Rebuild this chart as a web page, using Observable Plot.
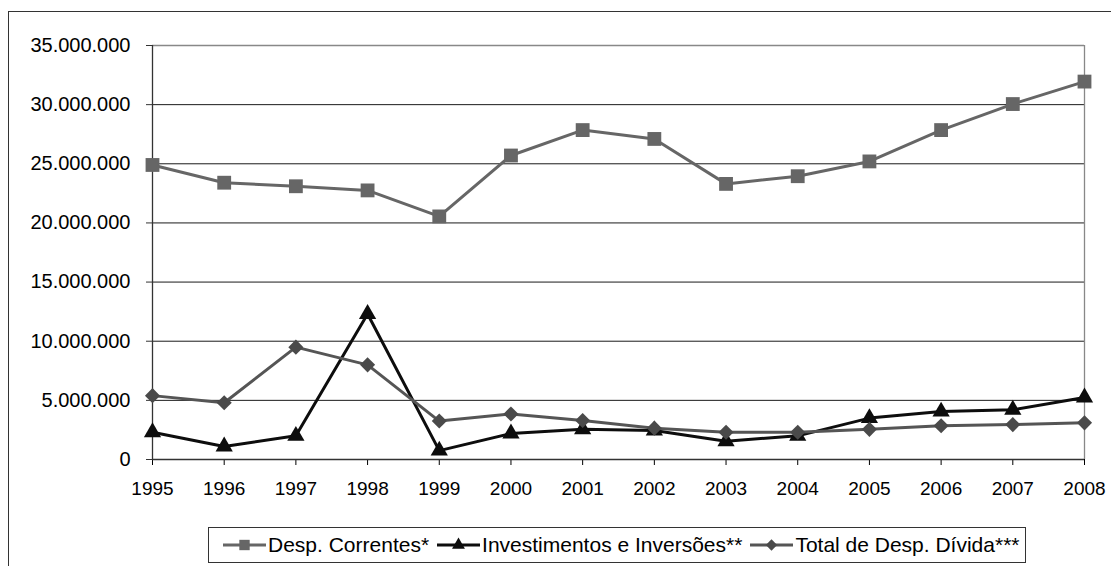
<!DOCTYPE html>
<html>
<head>
<meta charset="utf-8">
<script src="https://cdn.jsdelivr.net/npm/d3@7"></script>
<script src="https://cdn.jsdelivr.net/npm/@observablehq/plot@0.6"></script>
<style>
  html, body { margin: 0; padding: 0; background: #fff; }
  #wrap { position: relative; width: 1111px; height: 566px; overflow: hidden; font-family: "Liberation Sans", Arial, sans-serif; }
  #frame { position: absolute; left: 8px; top: 11px; width: 1300px; height: 700px; border-left: 1px solid #333; border-top: 1px solid #333; }
  #chart { position: absolute; left: 0; top: 0; }
  #legend { position: absolute; left: 208px; top: 527px; width: 818px; height: 36px; border: 1px solid #333; box-sizing: border-box; background: #fff;
            display: flex; align-items: center; padding-left: 14px; font-size: 21px; color: #000; white-space: nowrap; }
  #legend .item { display: flex; align-items: center; margin-right: 8px; }
  #legend svg { margin-right: 2px; }
</style>
</head>
<body>
<div id="wrap">
  <div id="frame"></div>
  <div id="chart"></div>
  <div id="legend"></div>
</div>
<script>
const years = [1995, 1996, 1997, 1998, 1999, 2000, 2001, 2002, 2003, 2004, 2005, 2006, 2007, 2008];
const despCorrentes = [24.9e6, 23.4e6, 23.1e6, 22.75e6, 20.55e6, 25.7e6, 27.85e6, 27.1e6, 23.3e6, 23.95e6, 25.2e6, 27.85e6, 30.05e6, 31.95e6];
const investimentos = [2.3e6, 1.1e6, 2.0e6, 12.3e6, 0.75e6, 2.2e6, 2.55e6, 2.45e6, 1.55e6, 2.0e6, 3.5e6, 4.05e6, 4.2e6, 5.25e6];
const totalDivida = [5.4e6, 4.8e6, 9.5e6, 8.0e6, 3.25e6, 3.85e6, 3.3e6, 2.65e6, 2.3e6, 2.3e6, 2.55e6, 2.85e6, 2.95e6, 3.1e6];
const seriesNames = ["Desp. Correntes*", "Investimentos e Inversões**", "Total de Desp. Dívida***"];
const yTicks = [0, 5e6, 10e6, 15e6, 20e6, 25e6, 30e6, 35e6];

const diamond2 = d3.symbolDiamond2 || {
  draw(ctx, size) { const r = Math.sqrt(size) * 0.62625; ctx.moveTo(0, -r); ctx.lineTo(r, 0); ctx.lineTo(0, r); ctx.lineTo(-r, 0); ctx.closePath(); }
};

const series = [
  {name: seriesNames[0], values: despCorrentes, line: "#666666", fill: "#666666", symbol: d3.symbolSquare, r: 7.8},
  {name: seriesNames[1], values: investimentos, line: "#0d0d0d", fill: "#0d0d0d", symbol: d3.symbolTriangle, r: 6.4},
  {name: seriesNames[2], values: totalDivida, line: "#555555", fill: "#4a4a4a", symbol: diamond2, r: 6.8}
];

const fmt = d => d3.format(",")(d).replace(/,/g, ".");

const marks = [
  Plot.ruleY(yTicks.slice(1, -1), {stroke: "#1a1a1a", strokeWidth: 1}),
  Plot.ruleY([35e6], {stroke: "#888", strokeWidth: 1.3}),
  Plot.ruleX([2008], {stroke: "#888", strokeWidth: 1.3}),
  Plot.axisY({ticks: yTicks, tickFormat: fmt, tickSize: 6, tickPadding: 16, fontSize: 20, stroke: "#333", color: "#000", label: null}),
  Plot.axisX({ticks: years, tickFormat: d => String(d), tickSize: 6, tickPadding: 16, fontSize: 19, color: "#000", label: null}),
  Plot.ruleX([1995], {stroke: "#333", strokeWidth: 1.3}),
  Plot.ruleY([0], {stroke: "#333", strokeWidth: 1.3})
];
for (const s of series) {
  const data = years.map((y, i) => ({year: y, value: s.values[i]}));
  marks.push(Plot.line(data, {x: "year", y: "value", stroke: s.line, strokeWidth: 3}));
  marks.push(Plot.dot(data, {x: "year", y: "value", symbol: s.symbol, r: s.r, fill: s.fill, stroke: "none"}));
}

const chart = Plot.plot({
  width: 1111,
  height: 520,
  marginLeft: 152,
  marginRight: 27,
  marginTop: 45,
  marginBottom: 61,
  style: {fontFamily: "'Liberation Sans', Arial, sans-serif", background: "transparent", overflow: "visible"},
  x: {domain: [1995, 2008], label: null},
  y: {domain: [0, 35e6], label: null},
  marks
});
document.getElementById("chart").appendChild(chart);

// legend
const legend = document.getElementById("legend");
const ns = "http://www.w3.org/2000/svg";
for (const s of series) {
  const item = document.createElement("div");
  item.className = "item";
  const svg = document.createElementNS(ns, "svg");
  svg.setAttribute("width", 43); svg.setAttribute("height", 20);
  const ln = document.createElementNS(ns, "line");
  ln.setAttribute("x1", 0); ln.setAttribute("x2", 43); ln.setAttribute("y1", 10); ln.setAttribute("y2", 10);
  ln.setAttribute("stroke", s.line); ln.setAttribute("stroke-width", 3);
  svg.appendChild(ln);
  const p = document.createElementNS(ns, "path");
  p.setAttribute("d", d3.symbol(s.symbol, Math.PI * (s.r * 0.75) ** 2)());
  p.setAttribute("transform", "translate(21.5,10)");
  p.setAttribute("fill", s.fill);
  svg.appendChild(p);
  item.appendChild(svg);
  const t = document.createElement("span");
  t.textContent = s.name;
  item.appendChild(t);
  legend.appendChild(item);
}
</script>
</body>
</html>
